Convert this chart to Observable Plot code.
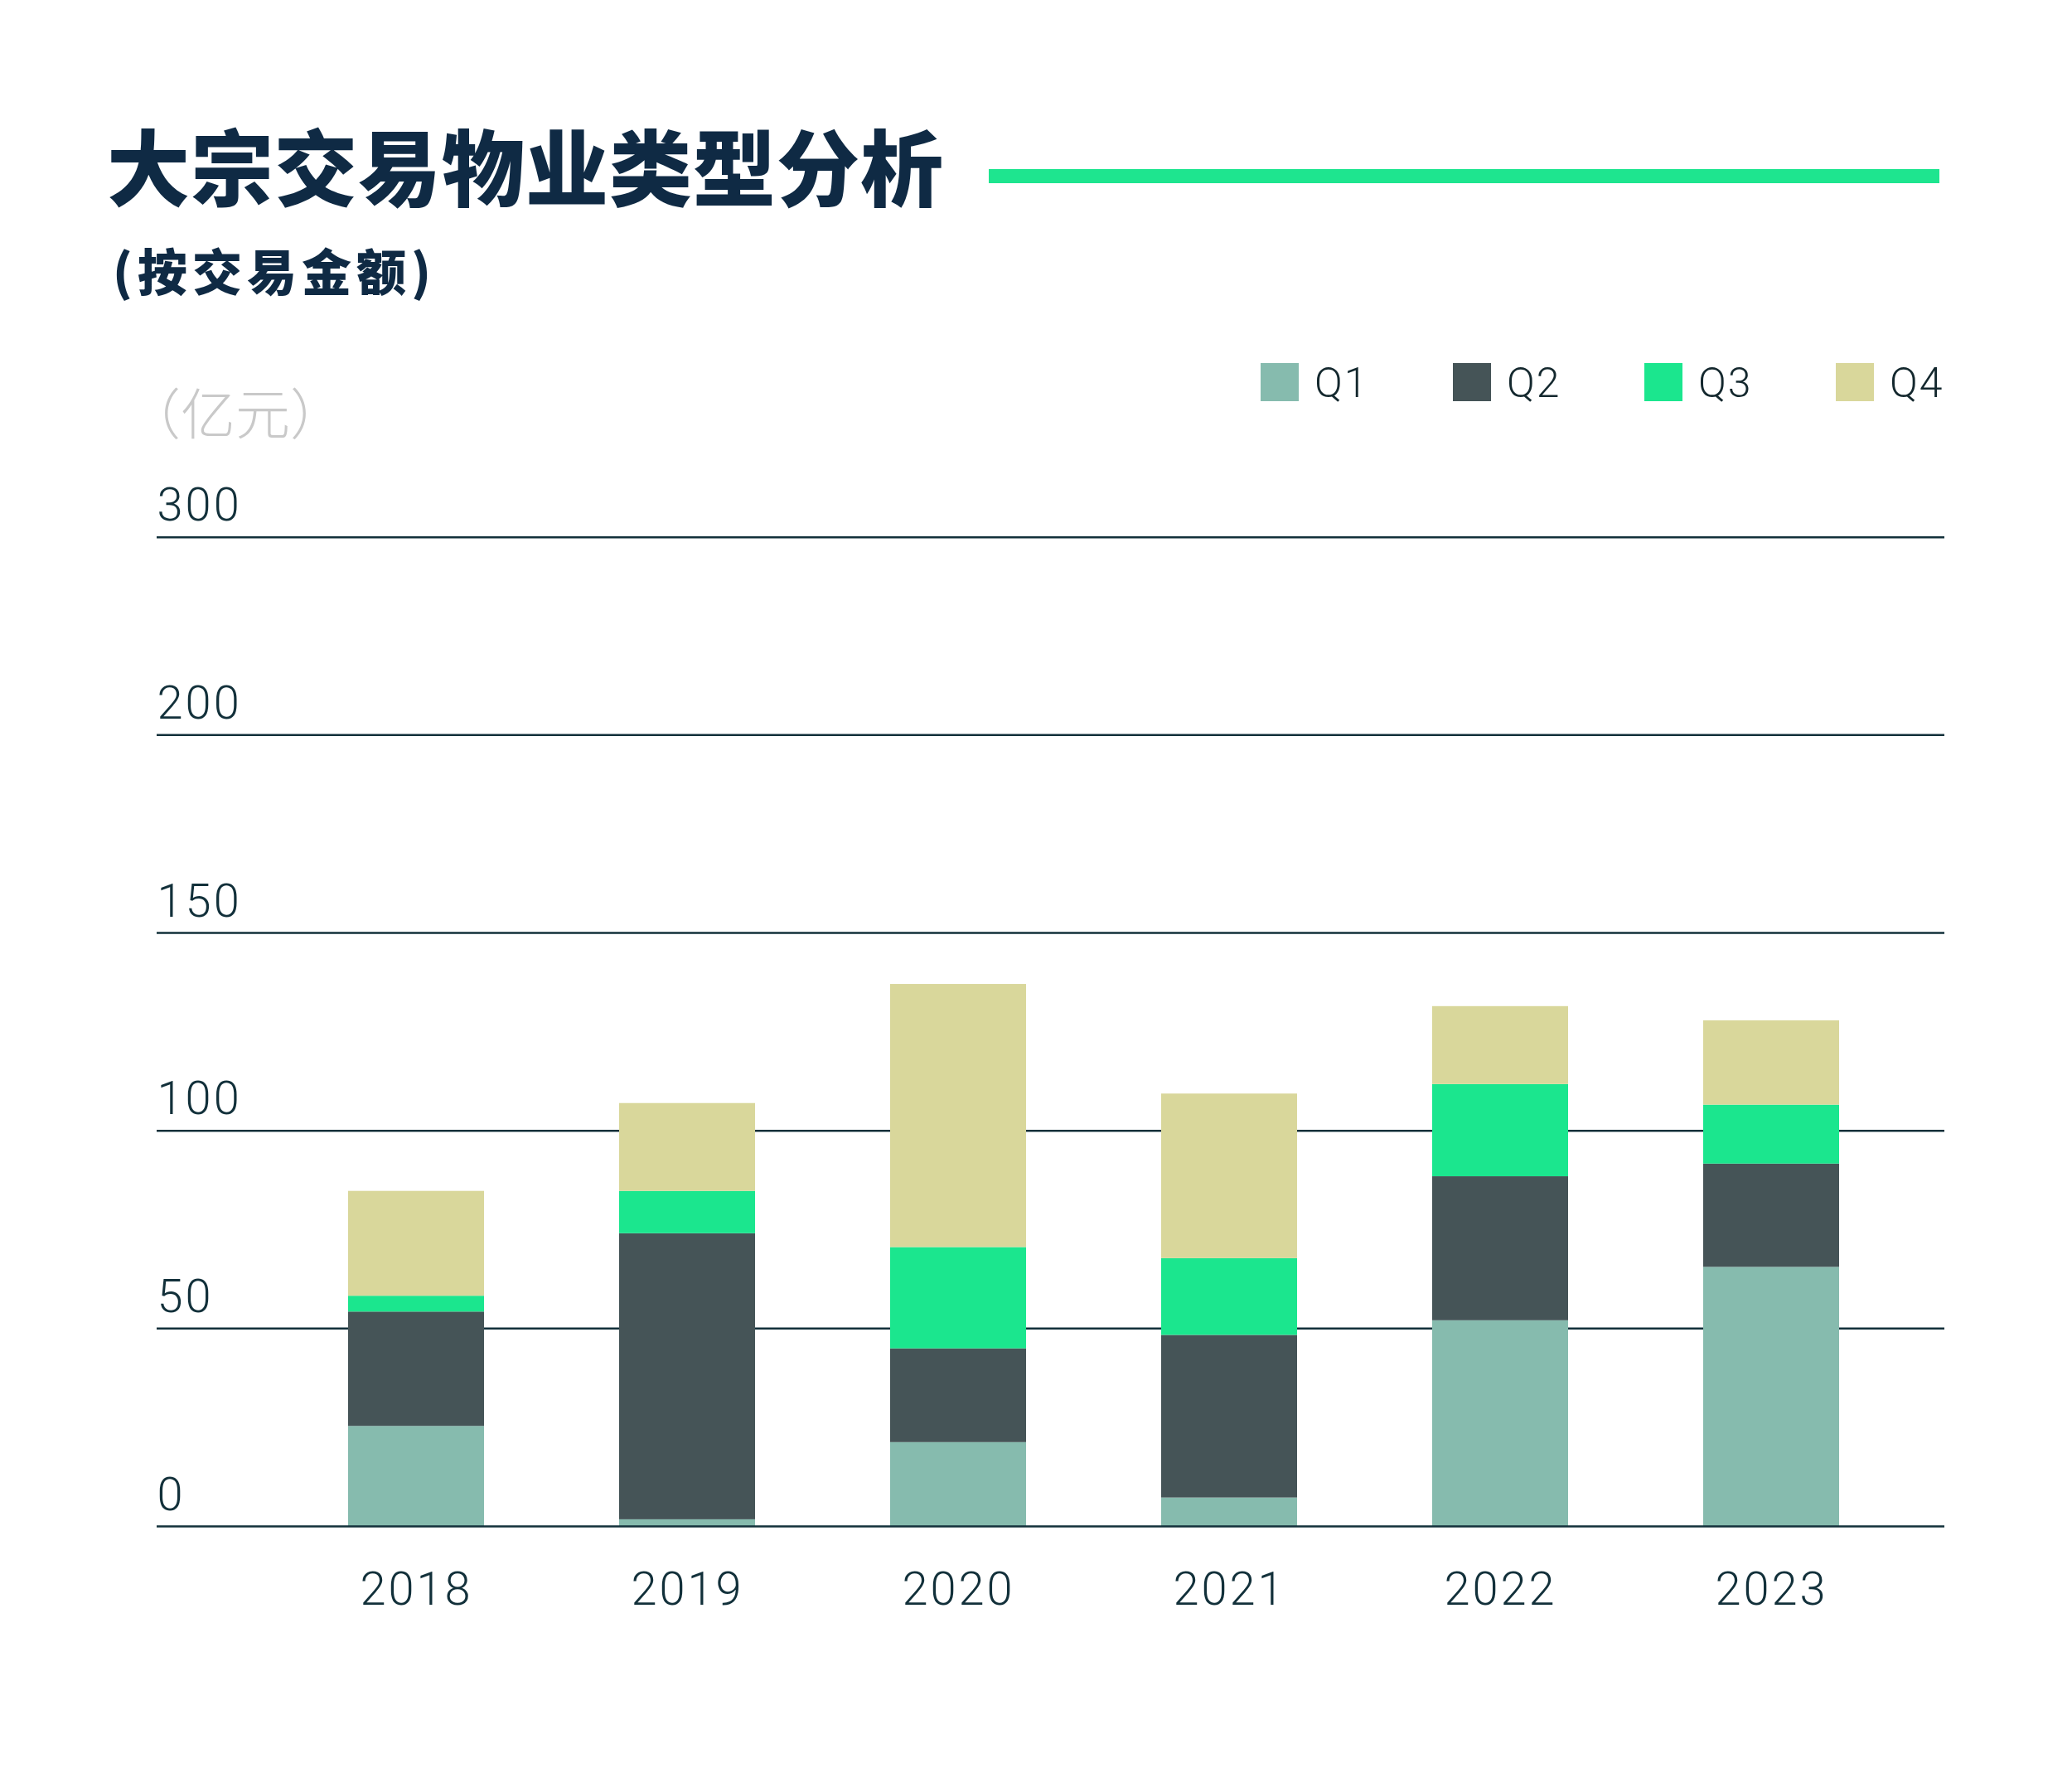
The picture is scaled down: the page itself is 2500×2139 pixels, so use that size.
<!DOCTYPE html>
<html>
<head>
<meta charset="utf-8">
<script src="https://cdn.jsdelivr.net/npm/d3@7"></script>
<script src="https://cdn.jsdelivr.net/npm/@observablehq/plot@0.6"></script>
<style>
  html, body { margin: 0; padding: 0; background: #ffffff; }
  #wrap { position: relative; width: 2500px; height: 2139px; overflow: hidden; background: #fff; }
  .abs { position: absolute; white-space: nowrap; }
  #title { left: 129px; top: 148px; font-family: "Noto Sans CJK SC"; font-weight: 900; font-size: 100px; line-height: 100px; letter-spacing: 1px; color: #0f2a44; }
  #rule { left: 1193px; top: 204px; width: 1147px; height: 17px; background: #1ee58f; }
  #subtitle { left: 136px; top: 295px; font-family: "Noto Sans CJK SC"; font-weight: 900; font-size: 60px; line-height: 60px; letter-spacing: 6px; color: #0f2a44; }
  #unit { left: 152px; top: 462px; font-family: "Noto Sans CJK SC"; font-weight: 300; font-size: 66px; line-height: 66px; color: #c9c9c9; }
  .sw { position: absolute; top: 438px; width: 46px; height: 46px; }
  .lt { position: absolute; top: 437px; font-family: Roboto; font-weight: 300; font-size: 50px; line-height: 50px; letter-spacing: 2px; color: #14282e; }
  #chart { position: absolute; left: 0; top: 540px; }
</style>
</head>
<body>
<div id="wrap">
  <div id="title" class="abs">大宗交易物业类型分析</div>
  <div id="rule" class="abs"></div>
  <div id="subtitle" class="abs">(按交易金额)</div>
  <div id="unit" class="abs">（亿元）</div>
  <div id="legend"></div>
  <div id="chart"></div>
</div>
<script>
// ---- data ----
const years = ["2018", "2019", "2020", "2021", "2022", "2023"];
const quarters = ["Q1", "Q2", "Q3", "Q4"];
const q1 = [25.3, 1.7, 21.2, 7.2, 52.0, 65.5];
const q2 = [28.9, 72.3, 23.7, 41.1, 36.4, 26.1];
const q3 = [4.0, 10.7, 25.6, 19.4, 23.3, 14.9];
const q4 = [26.5, 22.2, 66.5, 41.6, 19.7, 21.3];
const quarterColors = ["#86bbae", "#455457", "#1be68e", "#d9d79b"];
const tickValues = [0, 50, 100, 150, 200, 250];
const tickLabels = ["0", "50", "100", "150", "200", "300"];

const series = [q1, q2, q3, q4];
const rows = [];
years.forEach((y, i) => {
  quarters.forEach((q, k) => rows.push({year: y, quarter: q, value: series[k][i]}));
});

// ---- legend (HTML) ----
const legend = document.getElementById("legend");
const swX = [1521, 1753, 1984, 2215];
quarters.forEach((q, k) => {
  const s = document.createElement("div");
  s.className = "sw";
  s.style.left = swX[k] + "px";
  s.style.background = quarterColors[k];
  legend.appendChild(s);
  const t = document.createElement("div");
  t.className = "lt";
  t.style.left = (swX[k] + 65) + "px";
  t.textContent = q;
  legend.appendChild(t);
});

// ---- chart ----
const ink = "#12303a";
const chart = Plot.plot({
  width: 2500,
  height: 1599,
  marginTop: 107.7,
  marginBottom: 298,
  marginLeft: 189,
  marginRight: 154,
  style: {fontFamily: "Roboto", fontWeight: 300, color: ink, background: "transparent", letterSpacing: "3px"},
  x: {domain: years, range: [336, 2302], paddingInner: 0.5, paddingOuter: 0.25, axis: null, label: null},
  y: {domain: [0, 250], axis: null, label: null},
  color: {domain: quarters, range: quarterColors},
  marks: [
    Plot.ruleY(tickValues.slice(1), {stroke: ink, strokeWidth: 2.5}),
    Plot.barY(rows, {x: "year", y: "value", fill: "quarter"}),
    Plot.ruleY([0], {stroke: ink, strokeWidth: 2.5}),
    Plot.text(tickValues, {
      y: d => d,
      text: (d, i) => tickLabels[i],
      frameAnchor: "left",
      textAnchor: "start",
      lineAnchor: "bottom",
      dy: -20,
      fontSize: 56,
      fill: ink
    }),
    Plot.axisX({tickSize: 0, tickPadding: 55, fontSize: 56, fill: ink, label: null})
  ]
});
document.getElementById("chart").appendChild(chart);
</script>
</body>
</html>
